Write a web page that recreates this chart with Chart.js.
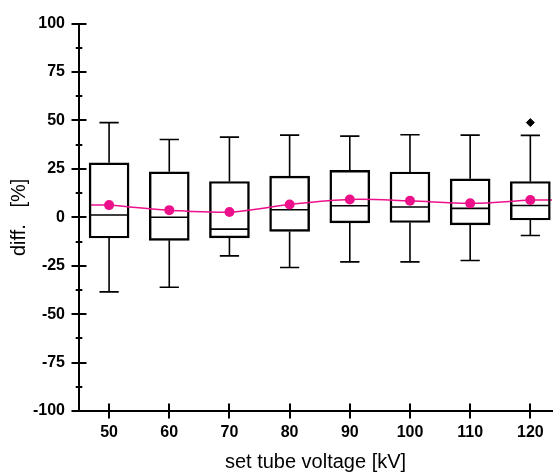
<!DOCTYPE html>
<html>
<head>
<meta charset="utf-8">
<script src="https://cdn.jsdelivr.net/npm/chart.js@4.4.1/dist/chart.umd.min.js"></script>
<style>
html,body{margin:0;padding:0;background:#fff;}
#wrap{width:557px;height:475px;}
</style>
</head>
<body>
<div id="wrap"><canvas id="c" width="557" height="475"></canvas></div>
<script>
// ---- data ----
const categories = [50, 60, 70, 80, 90, 100, 110, 120];
const whiskerLow  = [-38.5, -36.1, -19.9, -25.9, -23.0, -23.0, -22.3, -9.4];
const q1          = [-10.7, -11.9, -10.6, -7.3, -2.9, -2.7, -3.9, -1.4];
const medians     = [1.2, 0.0, -6.1, 3.9, 6.0, 5.3, 4.6, 6.1];
const q3          = [28.1, 23.5, 18.5, 21.3, 24.2, 23.4, 19.9, 18.5];
const whiskerHigh = [48.9, 40.2, 41.4, 42.4, 41.9, 42.6, 42.4, 42.3];
const means       = [6.3, 3.7, 2.7, 6.6, 9.2, 8.5, 7.2, 8.9];
const outlierX    = [120];
const outlierY    = [48.9];
const yTickValues = [-100, -75, -50, -25, 0, 25, 50, 75, 100];
const yMinorStep  = 12.5;

// ---- style constants ----
const PINK = '#ec118a';
const FONT = "'Liberation Sans', Arial, sans-serif";
const BOX_HALF = 3.2;   // half box width in x units
const CAP_HALF = 1.6;   // half whisker cap width in x units

const boxPlugin = {
  id: 'boxParts',
  beforeDatasetsDraw(chart) {
    const {ctx, scales: {x, y}} = chart;
    ctx.save();
    ctx.strokeStyle = '#000';
    ctx.lineWidth = 1.6;
    ctx.lineCap = 'butt';
    categories.forEach((c, i) => {
      const px = x.getPixelForValue(c);
      const capL = x.getPixelForValue(c - CAP_HALF), capR = x.getPixelForValue(c + CAP_HALF);
      const bL = x.getPixelForValue(c - BOX_HALF), bR = x.getPixelForValue(c + BOX_HALF);
      ctx.beginPath();
      ctx.moveTo(px, y.getPixelForValue(q3[i]));
      ctx.lineTo(px, y.getPixelForValue(whiskerHigh[i]));
      ctx.moveTo(capL, y.getPixelForValue(whiskerHigh[i]));
      ctx.lineTo(capR, y.getPixelForValue(whiskerHigh[i]));
      ctx.moveTo(px, y.getPixelForValue(q1[i]));
      ctx.lineTo(px, y.getPixelForValue(whiskerLow[i]));
      ctx.moveTo(capL, y.getPixelForValue(whiskerLow[i]));
      ctx.lineTo(capR, y.getPixelForValue(whiskerLow[i]));
      ctx.moveTo(bL, y.getPixelForValue(medians[i]));
      ctx.lineTo(bR, y.getPixelForValue(medians[i]));
      ctx.stroke();
    });
    ctx.strokeStyle = PINK;
    ctx.lineWidth = 1.5;
    ctx.beginPath();
    const n = categories.length;
    ctx.moveTo(x.getPixelForValue(categories[0] - BOX_HALF), y.getPixelForValue(means[0]));
    ctx.lineTo(x.getPixelForValue(categories[0]), y.getPixelForValue(means[0]));
    ctx.moveTo(x.getPixelForValue(categories[n - 1]), y.getPixelForValue(means[n - 1]));
    ctx.lineTo(x.right, y.getPixelForValue(means[n - 1]));
    ctx.stroke();
    ctx.restore();
  },
  afterDraw(chart) {
    const {ctx, scales: {x, y}} = chart;
    ctx.save();
    ctx.strokeStyle = '#000';
    ctx.lineWidth = 2;
    const ax = x.left, ay = y.bottom;
    ctx.beginPath();
    for (let v = y.min; v <= y.max + 1e-9; v += yMinorStep) {
      const py = Math.round(y.getPixelForValue(v));
      const major = Math.abs(v % 25) < 1e-9;
      const h = major ? 7.5 : 3.3;
      ctx.moveTo(ax - h, py);
      ctx.lineTo(ax + h, py);
    }
    categories.forEach(c => {
      const px = Math.round(x.getPixelForValue(c));
      ctx.moveTo(px, ay - 7.5);
      ctx.lineTo(px, ay + 7.5);
    });
    ctx.stroke();
    ctx.restore();
  }
};

const chart = new Chart(document.getElementById('c'), {
  data: {
    datasets: [
      {
        type: 'line',
        label: 'mean',
        data: categories.map((c, i) => ({x: c, y: means[i]})),
        borderColor: PINK,
        backgroundColor: PINK,
        borderWidth: 1.5,
        pointRadius: 5,
        pointBorderWidth: 0,
        pointBackgroundColor: PINK,
        tension: 0.35,
        order: 0
      },
      {
        type: 'scatter',
        label: 'outlier',
        data: outlierX.map((c, i) => ({x: c, y: outlierY[i]})),
        pointStyle: 'rectRot',
        pointRadius: 4,
        pointBackgroundColor: '#000',
        pointBorderColor: '#000',
        order: 1
      },
      {
        type: 'bar',
        label: 'box',
        data: categories.map((c, i) => ({x: c, y: [q1[i], q3[i]]})),
        backgroundColor: 'rgba(0,0,0,0)',
        borderColor: '#000',
        borderWidth: 1.8,
        borderSkipped: false,
        barThickness: 40,
        order: 2
      }
    ]
  },
  options: {
    responsive: false,
    animation: false,
    devicePixelRatio: 1,
    layout: {padding: {top: 19, right: 0, bottom: 0, left: 0}},
    plugins: {legend: {display: false}, tooltip: {enabled: false}},
    scales: {
      x: {
        type: 'linear',
        offset: false,
        min: 45,
        max: 123.6,
        afterBuildTicks: s => { s.ticks = categories.map(v => ({value: v})); },
        afterFit: s => { s.height = 64; },
        grid: {display: true, drawOnChartArea: false, drawTicks: false, offset: false},
        border: {display: true, color: '#000', width: 2},
        ticks: {
          autoSkip: false, maxRotation: 0, padding: 12, color: '#000',
          font: {family: FONT, size: 16, weight: 'bold'}
        },
        title: {
          display: true, text: 'set tube voltage [kV]', color: '#000',
          font: {family: FONT, size: 20, weight: 'normal'},
          padding: {top: 0, bottom: 1}
        }
      },
      y: {
        type: 'linear',
        min: -100,
        max: 100,
        afterBuildTicks: s => { s.ticks = yTickValues.map(v => ({value: v})); },
        afterFit: s => { s.width = 79; },
        grid: {display: true, drawOnChartArea: false, drawTicks: false},
        border: {display: true, color: '#000', width: 2},
        ticks: {
          autoSkip: false, padding: 14, color: '#000',
          font: {family: FONT, size: 16, weight: 'bold'}
        },
        title: {
          display: true, text: 'diff.   [%]', color: '#000',
          font: {family: FONT, size: 20, weight: 'normal'},
          padding: {top: 7, bottom: 0}
        }
      }
    }
  },
  plugins: [boxPlugin]
});
</script>
</body>
</html>
